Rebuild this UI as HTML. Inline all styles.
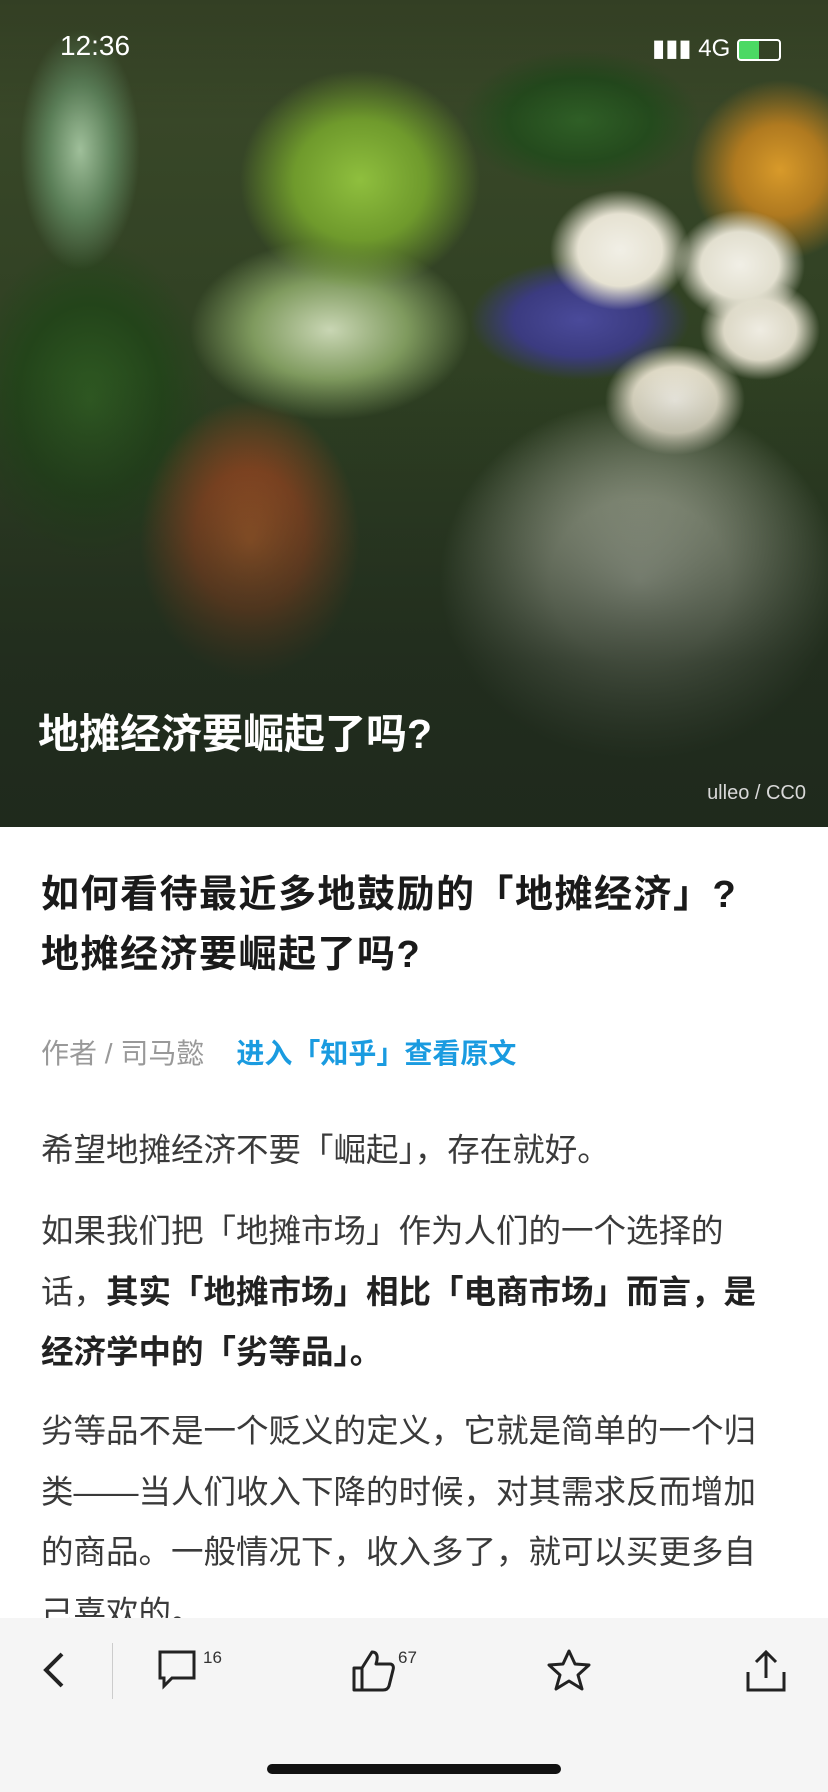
<!DOCTYPE html>
<html><head><meta charset="utf-8">
<style>
*{margin:0;padding:0;box-sizing:border-box}
body{width:828px;height:1792px;overflow:hidden;background:#fff;font-family:"Liberation Sans","Noto Sans CJK SC",sans-serif;position:relative}
.hero{position:absolute;left:0;top:0;width:828px;height:827px;overflow:hidden;
background:
radial-gradient(ellipse 70px 60px at 620px 250px,#f1efe6 0,#e6e2d2 60%,transparent 100%),
radial-gradient(ellipse 65px 55px at 740px 265px,#f1efe6 0,#e2dfcf 60%,transparent 100%),
radial-gradient(ellipse 60px 50px at 760px 330px,#efece2 0,#dcd8c6 60%,transparent 100%),
radial-gradient(ellipse 70px 55px at 675px 400px,#f2efe6 0,#ddd8c4 60%,transparent 100%),
radial-gradient(ellipse 110px 60px at 580px 320px,#4a4a9a 0,#3b3b80 60%,transparent 100%),
radial-gradient(ellipse 120px 110px at 360px 180px,#8fbf3e 0,#6f9a2c 55%,transparent 100%),
radial-gradient(ellipse 140px 90px at 330px 330px,#c9d6b4 0,#7f9a5e 55%,transparent 100%),
radial-gradient(ellipse 120px 70px at 580px 120px,#2f5f26 0,#244a1d 60%,transparent 100%),
radial-gradient(ellipse 60px 120px at 80px 150px,#9fbf9a 0,#5b7f58 55%,transparent 100%),
radial-gradient(ellipse 110px 140px at 250px 540px,#c8652b 0,#9a4a22 50%,transparent 100%),
radial-gradient(ellipse 200px 180px at 640px 580px,#d8dccb 0,#a9b09a 45%,transparent 100%),
radial-gradient(ellipse 120px 160px at 90px 400px,#2f5a22 0,#23441a 60%,transparent 100%),
radial-gradient(ellipse 90px 90px at 780px 170px,#d89a2a 0,#b07a20 50%,transparent 100%),
linear-gradient(180deg,#3c4a2a 0,#2e3f22 50%,#2a3a22 100%);}
.hero-shade{position:absolute;left:0;top:0;width:828px;height:827px;background:linear-gradient(180deg,rgba(0,0,0,0.15) 0,rgba(0,0,0,0) 15%,rgba(0,0,0,0) 45%,rgba(30,40,28,0.75) 80%,rgba(30,40,28,0.92) 100%)}
.status{position:absolute;top:30px;color:#fff;font-size:28px}
.hero-title{position:absolute;left:38px;top:700px;color:#fff;font-size:41px;font-weight:bold}
.credit{position:absolute;right:22px;top:782px;color:#d8d8d8;font-size:20px}
.title{position:absolute;left:41px;top:865px;font-size:38px;letter-spacing:1.5px;font-weight:bold;color:#1a1a1a;line-height:60px;white-space:nowrap}
.author{position:absolute;left:41px;top:1032px;font-size:28px;color:#999}
.author span{color:#1a9be0;margin-left:32px;font-weight:bold}
p{position:absolute;left:41px;width:780px;font-size:32.5px;color:#3a3a3a;line-height:60.5px;white-space:nowrap}
.bar{position:absolute;left:0;top:1618px;width:828px;height:174px;background:#f5f5f5}
.icon{position:absolute;top:1648px}
.cnt{position:absolute;font-size:17px;color:#333}
.home{position:absolute;left:267px;top:1764px;width:294px;height:10px;border-radius:5px;background:#111}
</style></head><body>
<div class="hero"></div>
<div class="hero-shade"></div>
<div class="status" style="left:60px">12:36</div>
<div class="status" style="left:652px;font-size:24px;top:34px">▮▮▮ 4G <span style="display:inline-block;width:44px;height:22px;border:2px solid #fff;border-radius:4px;vertical-align:middle;background:linear-gradient(90deg,#4cd964 50%,transparent 50%)"></span></div>
<div class="hero-title">地摊经济要崛起了吗?</div>
<div class="credit">ulleo / CC0</div>
<div class="title">如何看待最近多地鼓励的「地摊经济」?<br>地摊经济要崛起了吗?</div>
<div class="author">作者 / 司马懿<span>进入「知乎」查看原文</span></div>
<p style="top:1120px">希望地摊经济不要「崛起」，存在就好。</p>
<p style="top:1201px">如果我们把「地摊市场」作为人们的一个选择的<br>话，<b style="color:#222">其实「地摊市场」相比「电商市场」而言，是<br>经济学中的「劣等品」。</b></p>
<p style="top:1401px">劣等品不是一个贬义的定义，它就是简单的一个归<br>类——当人们收入下降的时候，对其需求反而增加<br>的商品。一般情况下，收入多了，就可以买更多自<br>己喜欢的。</p>
<div class="bar"></div>
<svg class="icon" style="left:36px" width="40" height="44"><path d="M26 6 L10 22 L26 38" stroke="#222" stroke-width="4" fill="none"/></svg>
<div style="position:absolute;left:112px;top:1643px;width:1px;height:56px;background:#ccc"></div>
<svg class="icon" style="left:156px" width="44" height="44"><path d="M4 4 H38 V30 H16 L8 38 V30 H4 Z" stroke="#222" stroke-width="3" fill="none"/></svg>
<div class="cnt" style="left:203px;top:1648px">16</div>
<svg class="icon" style="left:350px" width="46" height="46"><path d="M4 20 H12 V42 H4 Z M12 20 L22 4 C28 4 28 10 26 16 H40 C43 16 44 19 43 22 L39 38 C38 41 36 42 33 42 H12" stroke="#222" stroke-width="3" fill="none" stroke-linejoin="round"/></svg>
<div class="cnt" style="left:398px;top:1648px">67</div>
<svg class="icon" style="left:546px" width="46" height="46"><path d="M23 3 L29 16 L43 17 L32 27 L36 41 L23 33 L10 41 L14 27 L3 17 L17 16 Z" stroke="#222" stroke-width="3" fill="none" stroke-linejoin="round"/></svg>
<svg class="icon" style="left:744px" width="44" height="46"><path d="M22 30 V4 M12 14 L22 4 L32 14 M4 24 V42 H40 V24" stroke="#222" stroke-width="3" fill="none"/></svg>
<div class="home"></div>
</body></html>
